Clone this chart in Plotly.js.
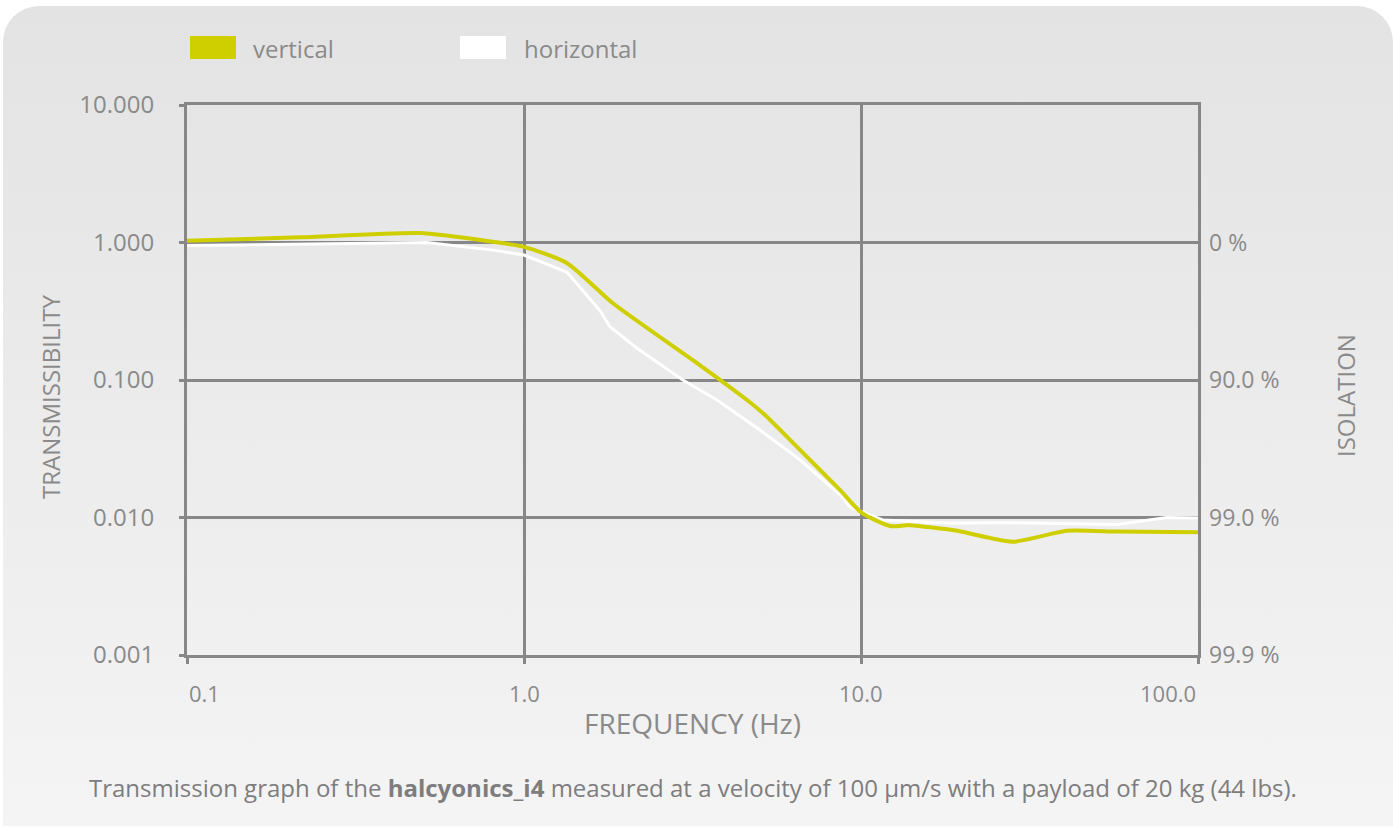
<!DOCTYPE html>
<html>
<head>
<meta charset="utf-8">
<script src="https://cdn.plot.ly/plotly-3.0.1.min.js"></script>
<style>
  html, body { margin: 0; padding: 0; background: #ffffff; }
  #bg { position: absolute; left: 3px; top: 6px; width: 1390px; height: 820px;
        border-radius: 36px 36px 0 0;
        background: linear-gradient(to bottom, #e3e3e3 0%, #f4f4f4 100%); }
  #chart { position: absolute; left: 0; top: 0; width: 1393px; height: 827px; }
</style>
</head>
<body>
<div id="bg"></div>
<div id="chart"></div>
<script>
// ---- data ----
const freqVertical = [0.1, 0.216, 0.49, 0.79, 1.0, 1.34, 1.84, 3.33, 4.59, 5.19, 6.59, 8.67, 10.05, 12.2, 13.97, 19.3, 28.2, 40.8, 57.5, 100];
const transVertical = [1.03, 1.09, 1.17, 1.02, 0.93, 0.71, 0.36, 0.128, 0.0716, 0.0556, 0.031, 0.0158, 0.0108, 0.00867, 0.0088, 0.0080, 0.00667, 0.0080, 0.0079, 0.0078];

const freqHorizontal = [0.1, 0.515, 0.81, 1.0, 1.34, 1.68, 1.80, 2.16, 2.96, 3.74, 5.01, 6.59, 8.67, 9.27, 11.6, 18.4, 25.8, 57.5, 80.9, 100];
const transHorizontal = [0.95, 1.0, 0.88, 0.81, 0.61, 0.32, 0.244, 0.171, 0.1, 0.0716, 0.0433, 0.0263, 0.0146, 0.0119, 0.0096, 0.0091, 0.0092, 0.0089, 0.0100, 0.0099];

const seriesNames = ["vertical", "horizontal"];
const xTickVals = [0.1, 1, 10, 100];
const xTickText = ["0.1", "1.0", "10.0", "100.0"];
const yTickVals = [10, 1, 0.1, 0.01, 0.001];
const yTickText = ["10.000", "1.000", "0.100", "0.010", "0.001"];
const y2TickVals = [1, 0.1, 0.01, 0.001];
const y2TickText = ["0 %", "90.0 %", "99.0 %", "99.9 %"];
const xTitle = "FREQUENCY (Hz)";
const yTitle = "TRANSMISSIBILITY";
const y2Title = "ISOLATION";
const caption = "Transmission graph of the <b>halcyonics_i4</b> measured at a velocity of 100 µm/s with a payload of 20 kg (44 lbs).";

// ---- styling ----
const FONT = "Open Sans, Noto Sans, sans-serif";
const GRAY = "#878787";
const TXT = "#8a8a8a";
const YELLOW = "#cfcf00";
const W = 1393, H = 827;
const L = 187, R = 1393 - 1198, T = 105, B = 827 - 655;
const PW = W - L - R, PH = H - T - B;
const px = v => (v - L) / PW;
const py = v => (H - B - v) / PH;

const traces = [
  { x: freqHorizontal, y: transHorizontal, name: seriesNames[1], type: "scatter", mode: "lines",
    line: { color: "#ffffff", width: 3, shape: "linear" }, xaxis: "x", yaxis: "y", showlegend: false },
  { x: freqVertical, y: transVertical, name: seriesNames[0], type: "scatter", mode: "lines",
    line: { color: YELLOW, width: 4, shape: "spline", smoothing: 0.6 }, xaxis: "x", yaxis: "y2", showlegend: false }
];

const annotations = [];
xTickVals.forEach((v, i) => {
  let anchor = "center";
  if (i === 0) anchor = "left";
  if (i === xTickVals.length - 1) anchor = "right";
  annotations.push({ x: Math.log10(v), y: py(693), xref: "x", yref: "paper", text: xTickText[i],
    showarrow: false, xanchor: anchor, yanchor: "middle", font: { family: FONT, size: 22, color: TXT } });
});
// axis titles
annotations.push({ x: px(50), y: py(397), xref: "paper", yref: "paper", text: yTitle, textangle: -90,
  showarrow: false, xanchor: "center", yanchor: "middle", font: { family: FONT, size: 24, color: TXT } });
annotations.push({ x: px(1345), y: py(396), xref: "paper", yref: "paper", text: y2Title, textangle: -90,
  showarrow: false, xanchor: "center", yanchor: "middle", font: { family: FONT, size: 24, color: TXT } });
annotations.push({ x: 0.5, y: py(723), xref: "paper", yref: "paper", text: xTitle,
  showarrow: false, xanchor: "center", yanchor: "middle", font: { family: FONT, size: 28, color: TXT } });
// caption
annotations.push({ x: 0.5, y: py(788), xref: "paper", yref: "paper", text: caption, showarrow: false,
  xanchor: "center", yanchor: "middle", font: { family: FONT, size: 24, color: "#7d7d7d" } });
// legend
annotations.push({ x: px(251), y: py(48), xref: "paper", yref: "paper", text: seriesNames[0], showarrow: false,
  xanchor: "left", yanchor: "middle", font: { family: FONT, size: 24, color: TXT } });
annotations.push({ x: px(522), y: py(48), xref: "paper", yref: "paper", text: seriesNames[1], showarrow: false,
  xanchor: "left", yanchor: "middle", font: { family: FONT, size: 24, color: TXT } });

const shapes = [
  { type: "rect", xref: "paper", yref: "paper", x0: px(190), x1: px(236), y0: py(59), y1: py(36),
    fillcolor: YELLOW, line: { width: 0 } },
  { type: "rect", xref: "paper", yref: "paper", x0: px(460), x1: px(506), y0: py(59), y1: py(36),
    fillcolor: "#ffffff", line: { width: 0 } }
];

const layout = {
  width: W, height: H,
  margin: { l: L, r: R, t: T, b: B, pad: 0 },
  paper_bgcolor: "rgba(0,0,0,0)",
  plot_bgcolor: "rgba(0,0,0,0)",
  font: { family: FONT, color: TXT, size: 22 },
  xaxis: {
    type: "log", range: [-1, 2], tickvals: xTickVals, ticktext: xTickText, showticklabels: false,
    showgrid: true, gridcolor: GRAY, gridwidth: 3, zeroline: false,
    showline: true, linecolor: GRAY, linewidth: 3, mirror: true,
    ticks: "outside", ticklen: 6, tickwidth: 3, tickcolor: GRAY,
    fixedrange: true
  },
  yaxis: {
    type: "log", range: [-3, 1], tickvals: yTickVals, ticktext: yTickText,
    showgrid: true, gridcolor: GRAY, gridwidth: 3, zeroline: false,
    showline: true, linecolor: GRAY, linewidth: 3, mirror: true,
    ticks: "outside", ticklen: 5, tickwidth: 3, tickcolor: GRAY, ticklabelstandoff: 20,
    tickfont: { family: FONT, size: 24, color: TXT },
    fixedrange: true
  },
  yaxis2: {
    type: "log", range: [-3, 1], overlaying: "y", side: "right", anchor: "x",
    tickvals: y2TickVals, ticktext: y2TickText, showgrid: false, zeroline: false, showline: false,
    ticks: "", ticklabelstandoff: 10,
    tickfont: { family: FONT, size: 23, color: TXT },
    fixedrange: true
  },
  annotations: annotations,
  shapes: shapes,
  showlegend: false
};

Plotly.newPlot("chart", traces, layout, { displayModeBar: false, staticPlot: true });
</script>
</body>
</html>
